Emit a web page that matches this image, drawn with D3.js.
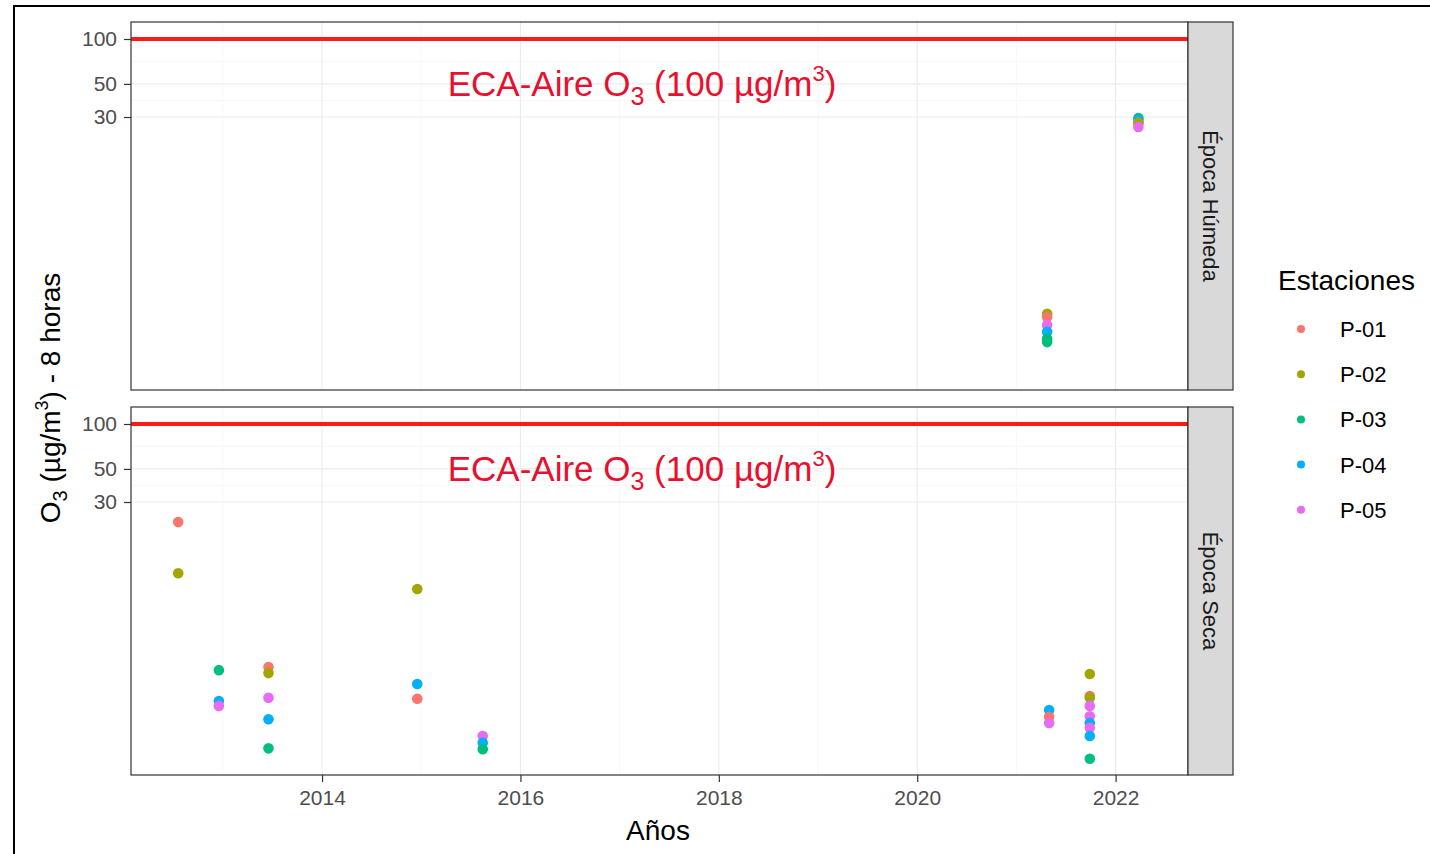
<!DOCTYPE html>
<html><head><meta charset="utf-8">
<script src="https://cdn.jsdelivr.net/npm/d3@7"></script>
<style>
html,body{margin:0;padding:0;background:#fff;}
svg{display:block;font-family:"Liberation Sans",Arial,sans-serif;}
</style></head>
<body>
<svg id="chart" width="1430" height="854"></svg>
<script>
// ---------- data ----------
const stations = ["P-01","P-02","P-03","P-04","P-05"];
const facets = ["Época Húmeda","Época Seca"];
const yTicks = [30, 50, 100];
const xTicks = [2014, 2016, 2018, 2020, 2022];
const ecaLimit = 100;

// Época Húmeda: [decimal year, station, O3 µg/m3]
const humeda = [
  [2021.31,"P-02",1.44],[2021.31,"P-01",1.37],[2021.31,"P-05",1.21],
  [2021.31,"P-04",1.09],[2021.31,"P-03",0.93],[2021.31,"P-03",0.98],
  [2022.23,"P-03",29.5],[2022.23,"P-04",28.6],[2022.23,"P-01",27.4],
  [2022.23,"P-02",27.4],[2022.23,"P-05",25.7]
];
// Época Seca
const seca = [
  [2012.55,"P-01",22.0],[2012.55,"P-02",10.0],
  [2012.96,"P-03",2.24],[2012.96,"P-04",1.39],[2012.96,"P-05",1.29],
  [2013.46,"P-01",2.35],[2013.46,"P-02",2.14],[2013.46,"P-05",1.46],
  [2013.46,"P-04",1.05],[2013.46,"P-03",0.67],
  [2014.96,"P-02",7.83],[2014.96,"P-04",1.81],[2014.96,"P-01",1.44],
  [2015.62,"P-05",0.81],[2015.62,"P-04",0.73],[2015.62,"P-03",0.66],
  [2021.33,"P-04",1.21],[2021.33,"P-01",1.09],[2021.33,"P-05",0.99],
  [2021.74,"P-02",2.11],[2021.74,"P-01",1.50],[2021.74,"P-02",1.46],
  [2021.74,"P-05",1.29],[2021.74,"P-05",1.10],[2021.74,"P-04",0.99],
  [2021.74,"P-05",0.92],[2021.74,"P-04",0.81],[2021.74,"P-03",0.57]
];
const facetData = [humeda, seca];

// ---------- layout ----------
const svg = d3.select("#chart");
const panelL = 131, panelR = 1188, stripW = 45;
const panelTops = [22, 407], panelH = 368;
const red = "#ff1a1a", textRed = "#e8102e";
const tickFont = 21;

const color = d3.scaleOrdinal().domain(stations)
  .range(["#F8766D","#A3A500","#00BF7D","#00B0F6","#E76BF3"]);
const x = d3.scaleLinear().domain([2012.074, 2022.73]).range([panelL, panelR]);

// outer frame
svg.append("rect").attr("x",14).attr("y",6).attr("width",1440).attr("height",900)
  .attr("fill","none").attr("stroke","#000").attr("stroke-width",2);

facets.forEach((name, i) => {
  const top = panelTops[i];
  const y = d3.scaleLog().domain([0.444, 130]).range([top + panelH, top]);
  const g = svg.append("g");

  // grid minor
  const xMinor = [2013, 2015, 2017, 2019, 2021];
  g.selectAll(".xm").data(xMinor).enter().append("line")
    .attr("x1", d => x(d)).attr("x2", d => x(d))
    .attr("y1", top).attr("y2", top + panelH)
    .attr("stroke", "#f4f4f4").attr("stroke-width", 0.6);
  const yMinor = [Math.sqrt(30*50), Math.sqrt(50*100)];
  g.selectAll(".ym").data(yMinor).enter().append("line")
    .attr("x1", panelL).attr("x2", panelR)
    .attr("y1", d => y(d)).attr("y2", d => y(d))
    .attr("stroke", "#f4f4f4").attr("stroke-width", 0.6);
  // grid major
  g.selectAll(".xg").data(xTicks).enter().append("line")
    .attr("x1", d => x(d)).attr("x2", d => x(d))
    .attr("y1", top).attr("y2", top + panelH)
    .attr("stroke", "#ebebeb").attr("stroke-width", 1.1);
  g.selectAll(".yg").data(yTicks).enter().append("line")
    .attr("x1", panelL).attr("x2", panelR)
    .attr("y1", d => y(d)).attr("y2", d => y(d))
    .attr("stroke", "#ebebeb").attr("stroke-width", 1.1);

  // ECA line
  g.append("line").attr("x1", panelL).attr("x2", panelR)
    .attr("y1", y(ecaLimit)).attr("y2", y(ecaLimit))
    .attr("stroke", red).attr("stroke-width", 4);

  // ECA label
  const t = g.append("text").attr("x", 642).attr("y", top + 74)
    .attr("text-anchor", "middle").attr("fill", textRed)
    .attr("font-size", 35);
  t.append("tspan").text("ECA-Aire O");
  t.append("tspan").text("3").attr("font-size", 25).attr("dy", 9);
  t.append("tspan").text(" (100 µg/m").attr("dy", -9);
  t.append("tspan").text("3").attr("font-size", 22).attr("dy", -15);
  t.append("tspan").text(")").attr("dy", 15);

  // points
  g.selectAll(".pt").data(facetData[i]).enter().append("circle")
    .attr("cx", d => x(d[0])).attr("cy", d => y(d[2]))
    .attr("r", 5.3).attr("fill", d => color(d[1]));

  // panel border
  g.append("rect").attr("x", panelL).attr("y", top)
    .attr("width", panelR - panelL).attr("height", panelH)
    .attr("fill", "none").attr("stroke", "#333").attr("stroke-width", 1.2);

  // strip
  g.append("rect").attr("x", panelR).attr("y", top)
    .attr("width", stripW).attr("height", panelH)
    .attr("fill", "#d9d9d9").attr("stroke", "#333").attr("stroke-width", 1.2);
  g.append("text")
    .attr("transform", `translate(${panelR + stripW/2},${top + panelH/2}) rotate(90)`)
    .attr("text-anchor", "middle").attr("dy", "0.35em")
    .attr("font-size", 22).attr("fill", "#1a1a1a").text(name);

  // y axis
  const ya = g.append("g").attr("transform", `translate(${panelL},0)`)
    .call(d3.axisLeft(y).tickValues(yTicks).tickFormat(d3.format("d")).tickSize(7).tickPadding(7));
  ya.select(".domain").remove();
  ya.selectAll("line").attr("stroke", "#333").attr("stroke-width", 1.2);
  ya.selectAll("text").attr("font-size", tickFont).attr("fill", "#4d4d4d")
    .attr("font-family", "Liberation Sans, Arial, sans-serif");
});

// x axis
const xa = svg.append("g").attr("transform", `translate(0,${panelTops[1] + panelH})`)
  .call(d3.axisBottom(x).tickValues(xTicks).tickFormat(d3.format("d")).tickSize(7).tickPadding(8));
xa.select(".domain").remove();
xa.selectAll("line").attr("stroke", "#333").attr("stroke-width", 1.2);
xa.selectAll("text").attr("font-size", tickFont).attr("fill", "#4d4d4d")
  .attr("font-family", "Liberation Sans, Arial, sans-serif");

// axis titles
svg.append("text").attr("x", 658).attr("y", 840)
  .attr("text-anchor", "middle").attr("font-size", 28).attr("fill", "#000").text("Años");

const yt = svg.append("text")
  .attr("transform", `translate(60,398) rotate(-90)`)
  .attr("text-anchor", "middle").attr("font-size", 28).attr("fill", "#000");
yt.append("tspan").text("O");
yt.append("tspan").text("3").attr("font-size", 20).attr("dy", 7);
yt.append("tspan").text(" (µg/m").attr("dy", -7);
yt.append("tspan").text("3").attr("font-size", 18).attr("dy", -12);
yt.append("tspan").text(") - 8 horas").attr("dy", 12);

// legend
const lg = svg.append("g");
lg.append("text").attr("x", 1278).attr("y", 290).attr("font-size", 28)
  .attr("fill", "#000").text("Estaciones");
const items = lg.selectAll(".li").data(stations).enter().append("g")
  .attr("transform", (d, k) => `translate(0,${329 + k * 45.2})`);
items.append("circle").attr("cx", 1301).attr("cy", 0).attr("r", 4)
  .attr("fill", d => color(d));
items.append("text").attr("x", 1340).attr("y", 0).attr("dy", "0.36em")
  .attr("font-size", 22).attr("fill", "#000").text(d => d);
</script>
</body></html>
